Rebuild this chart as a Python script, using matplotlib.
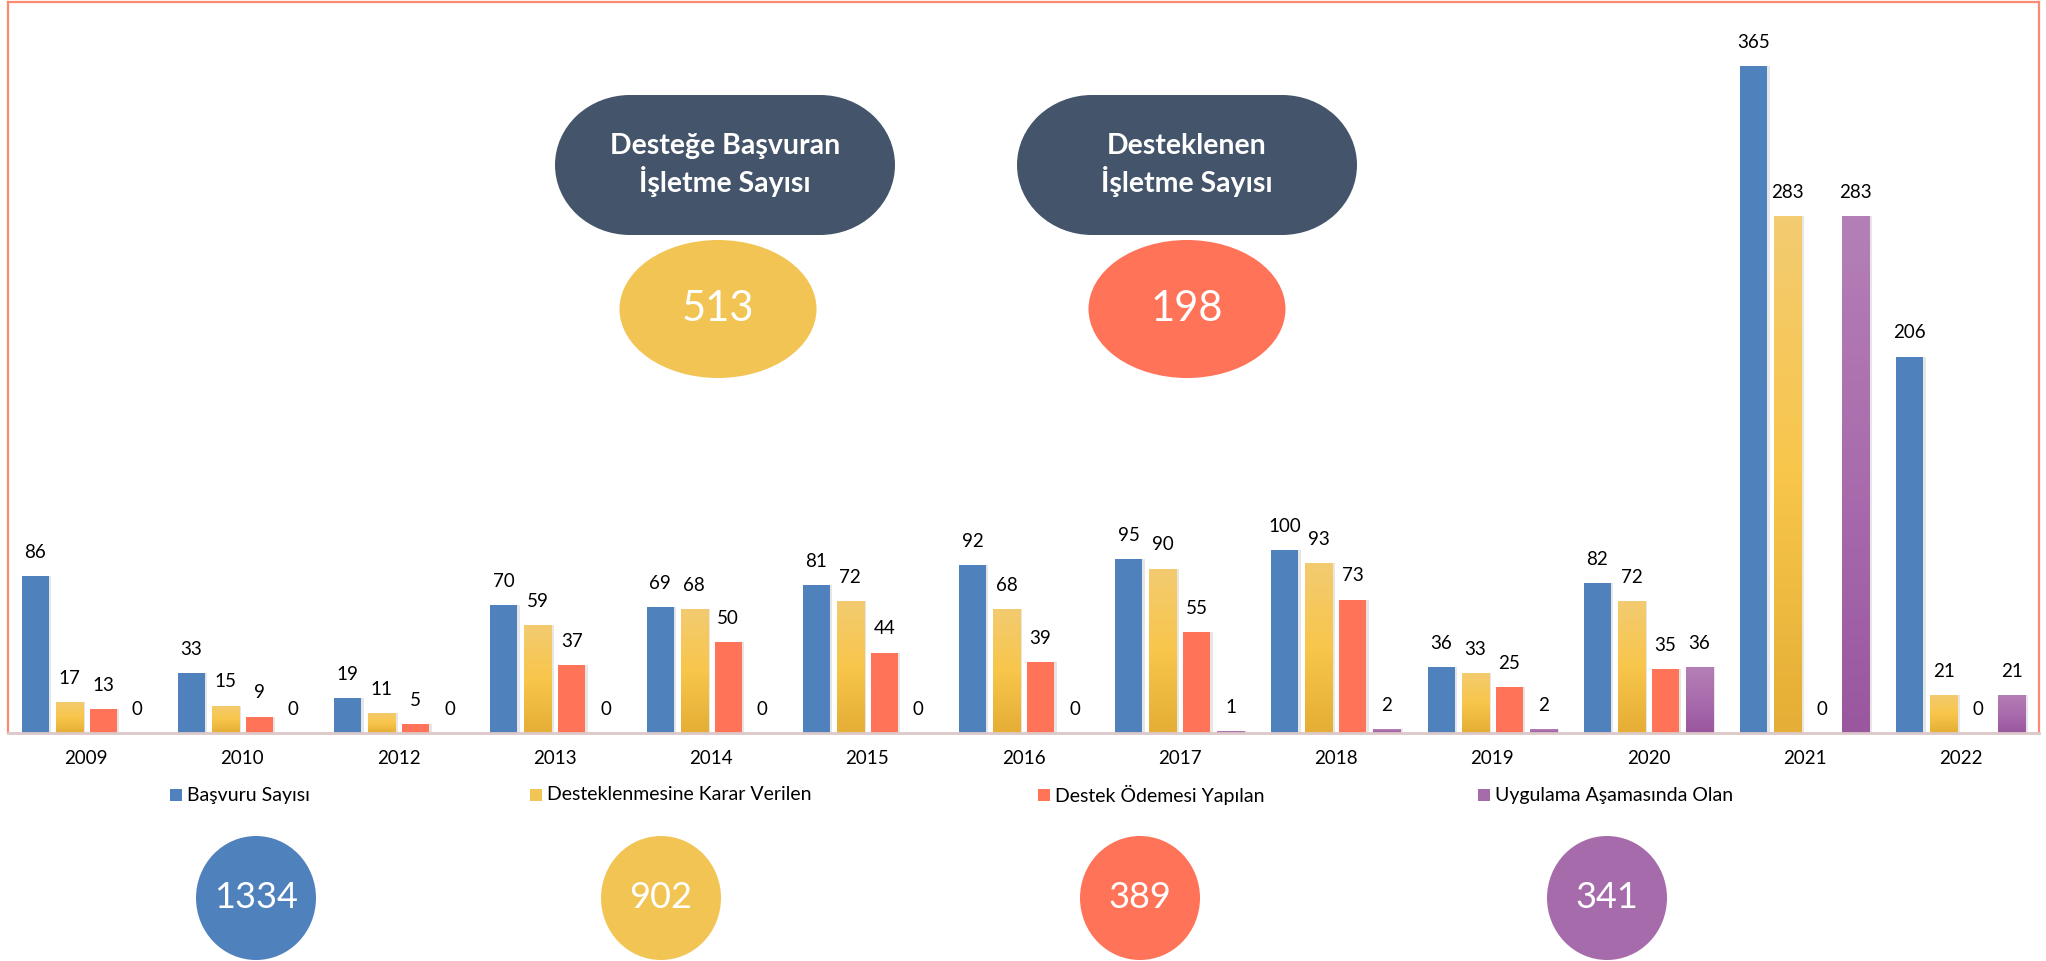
import numpy as np
import matplotlib
matplotlib.use('Agg')
import matplotlib.pyplot as plt
from matplotlib.patches import Ellipse, Rectangle
from matplotlib.colors import LinearSegmentedColormap

plt.rcParams['font.family'] = ['Lato', 'DejaVu Sans']

years = ['2009', '2010', '2012', '2013', '2014', '2015', '2016',
         '2017', '2018', '2019', '2020', '2021', '2022']
basvuru = [86, 33, 19, 70, 69, 81, 92, 95, 100, 36, 82, 365, 206]
karar = [17, 15, 11, 59, 68, 72, 68, 90, 93, 33, 72, 283, 21]
odeme = [13, 9, 5, 37, 50, 44, 39, 55, 73, 25, 35, 0, 0]
uygulama = [0, 0, 0, 0, 0, 0, 0, 1, 2, 2, 36, 283, 21]
series_names = ['Başvuru Sayısı', 'Desteklenmesine Karar Verilen',
                'Destek Ödemesi Yapılan', 'Uygulama Aşamasında Olan']
totals = [1334, 902, 389, 341]
top_titles = ['Desteğe Başvuran\nİşletme Sayısı', 'Desteklenen\nİşletme Sayısı']
top_values = [513, 198]

blue = '#4F81BD'
yellow = '#F2C454'
red = '#FF7358'
purple = '#A66BAA'
slate = '#44546A'
border = '#FB8A72'

W, H = 2046, 961
fig = plt.figure(figsize=(W / 100, H / 100), dpi=100)
ax = fig.add_axes([8 / W, (H - 733) / H, (2039 - 8) / W, 731 / H])

x = np.arange(len(years))
step = 34 / 156.2
width = 27 / 156.2
cols = [blue, yellow, red, purple]
data = [basvuru, karar, odeme, uygulama]
grads = {1: ['#F3CB70', '#F8C64B', '#E5AE36'],
         3: ['#B47FB6', '#A96CAD', '#9A579F']}

for i, (vals, c) in enumerate(zip(data, cols)):
    pos = x + (i - 1.5) * step
    # soft shadow
    ax.bar(pos + 2.5 / 156.2, vals, width, color='#777777', alpha=0.18, zorder=1)
    bars = ax.bar(pos, vals, width, color=c, zorder=2)
    if i in grads:
        cmap = LinearSegmentedColormap.from_list('g%d' % i, grads[i][::-1])
        g = np.linspace(0, 1, 100).reshape(-1, 1)
        for b in bars:
            if b.get_height() <= 0:
                continue
            im = ax.imshow(g, cmap=cmap, origin='lower', aspect='auto', zorder=2.5,
                           extent=[b.get_x(), b.get_x() + b.get_width(), 0, b.get_height()])
            im.set_clip_path(b)
    for p, v in zip(pos, vals):
        ax.annotate(str(v), (p, v), xytext=(0, 17), textcoords='offset points',
                    ha='center', va='center', fontsize=13.5, color='black', zorder=4)

ax.set_xlim(-0.5, len(years) - 0.5)
ax.set_ylim(0, 400)
ax.set_xticks(x)
ax.set_xticklabels(years, fontsize=13.5)
ax.tick_params(axis='x', length=0, pad=12)
ax.set_yticks([])
for s in ['left', 'top', 'right']:
    ax.spines[s].set_color(border)
    ax.spines[s].set_linewidth(1.6)
ax.spines['bottom'].set_color('#DCC8C8')
ax.spines['bottom'].set_linewidth(2)

# overlay in pixel coords for the shapes and legend
ov = fig.add_axes([0, 0, 1, 1], zorder=5)
ov.set_xlim(0, W)
ov.set_ylim(H, 0)
ov.axis('off')

pill_cx = [725, 1187]
for cx, t in zip(pill_cx, top_titles):
    ov.add_patch(Ellipse((cx - 95, 165), 150, 140, fc=slate, ec='none'))
    ov.add_patch(Ellipse((cx + 95, 165), 150, 140, fc=slate, ec='none'))
    ov.add_patch(Rectangle((cx - 95, 95), 190, 140, fc=slate, ec='none'))
    ov.text(cx, 165, t, ha='center', va='center', color='white', fontsize=20.5,
            fontweight='bold', linespacing=1.25)

for cx, v, c in zip([718, 1187], top_values, [yellow, red]):
    ov.add_patch(Ellipse((cx, 309), 197, 138, fc=c, ec='none'))
    ov.text(cx, 309, str(v), ha='center', va='center', color='white', fontsize=30)

# legend
leg_x = [170, 530, 1038, 1478]
for lx, name, c in zip(leg_x, series_names, cols):
    ov.add_patch(Rectangle((lx, 789), 12, 12, fc=c, ec='none'))
    ov.text(lx + 17, 795, name, ha='left', va='center', fontsize=14)

# bottom totals
for cx, v, c in zip([256, 661, 1140, 1607], totals, cols):
    ov.add_patch(Ellipse((cx, 898), 120, 124, fc=c, ec='none'))
    ov.text(cx, 898, str(v), ha='center', va='center', color='white', fontsize=26)

fig.savefig('out.png', dpi=100)
